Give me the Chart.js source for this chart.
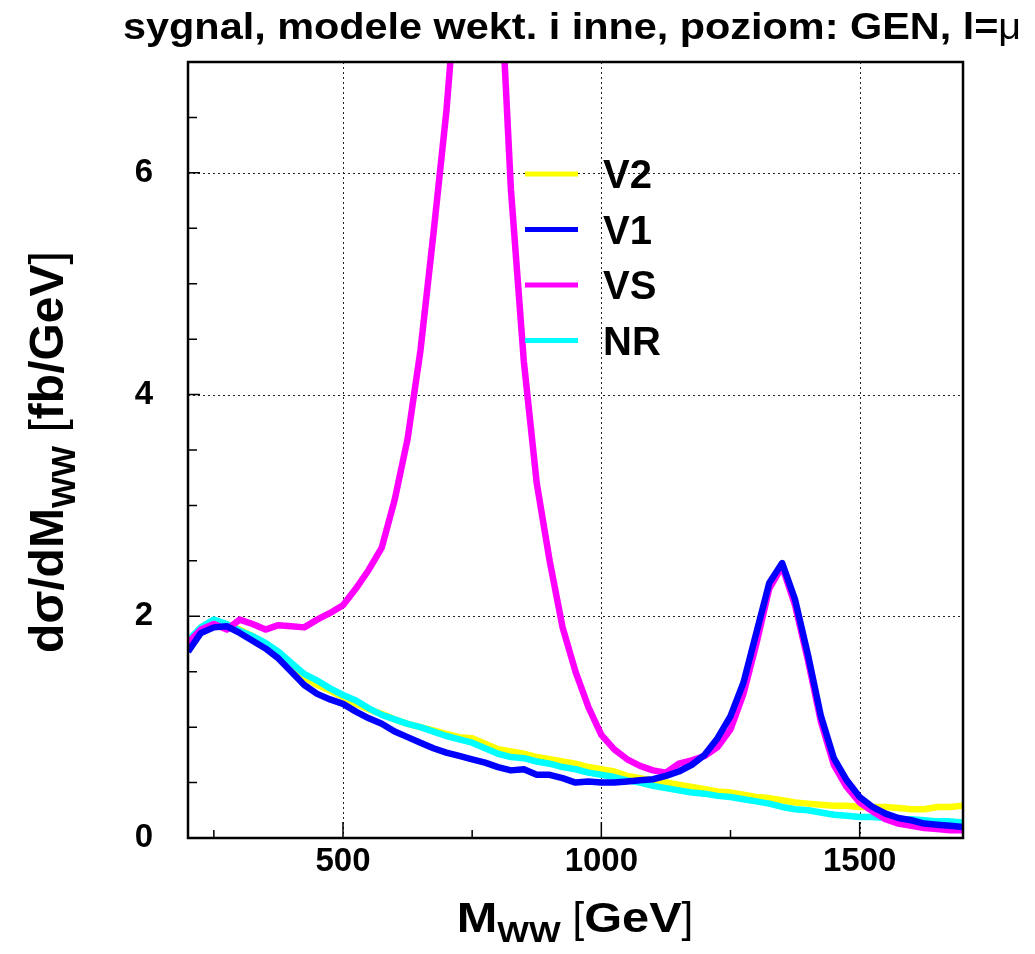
<!DOCTYPE html>
<html lang="pl">
<head>
<meta charset="UTF-8">
<title>sygnal, modele wekt. i inne, poziom: GEN</title>
<script src="https://cdn.jsdelivr.net/npm/chart.js"></script>
<style>
  body { margin: 0; background: #fff; }
  #wrap { width: 1035px; height: 954px; }
</style>
</head>
<body>
<div id="wrap"><canvas id="chart" width="1035" height="954"></canvas></div>
<script>
// M_WW bin centres [GeV]
const massGeV = [200, 225, 250, 275, 300, 325, 350, 375, 400, 425, 450, 475, 500, 525, 550, 575,
  600, 625, 650, 675, 700, 725, 750, 775, 800, 825, 850, 875, 900, 925, 950, 975,
  1000, 1025, 1050, 1075, 1100, 1125, 1150, 1175, 1200, 1225, 1250, 1275, 1300, 1325, 1350, 1375,
  1400, 1425, 1450, 1475, 1500, 1525, 1550, 1575, 1600, 1625, 1650, 1675, 1700];

// dsigma/dM_WW [fb/GeV]
const v2 = [1.76, 1.90, 1.96, 1.93, 1.88, 1.82, 1.75, 1.67, 1.56, 1.45, 1.38, 1.33, 1.27, 1.21, 1.16, 1.12,
  1.07, 1.03, 1.00, 0.97, 0.94, 0.91, 0.90, 0.85, 0.80, 0.78, 0.76, 0.73, 0.71, 0.69, 0.67, 0.64,
  0.62, 0.60, 0.56, 0.54, 0.52, 0.50, 0.48, 0.46, 0.44, 0.42, 0.41, 0.39, 0.37, 0.36, 0.34, 0.32,
  0.31, 0.30, 0.29, 0.29, 0.28, 0.28, 0.28, 0.27, 0.26, 0.26, 0.28, 0.28, 0.29];
const v1 = [1.68, 1.85, 1.90, 1.91, 1.85, 1.78, 1.71, 1.62, 1.50, 1.38, 1.30, 1.25, 1.21, 1.14, 1.08, 1.03,
  0.96, 0.91, 0.86, 0.81, 0.77, 0.74, 0.71, 0.68, 0.64, 0.61, 0.62, 0.57, 0.57, 0.54, 0.50, 0.51,
  0.50, 0.50, 0.51, 0.52, 0.53, 0.56, 0.60, 0.66, 0.75, 0.90, 1.10, 1.40, 1.85, 2.30, 2.48, 2.15,
  1.65, 1.10, 0.72, 0.52, 0.37, 0.28, 0.22, 0.18, 0.16, 0.13, 0.12, 0.11, 0.10];
const vs = [1.76, 1.88, 1.93, 1.88, 1.97, 1.93, 1.88, 1.92, 1.91, 1.90, 1.97, 2.03, 2.10, 2.25, 2.42, 2.62,
  3.05, 3.60, 4.40, 5.45, 6.55, 8.00, 10.5, 10.5, 8.20, 5.85, 4.30, 3.20, 2.50, 1.90, 1.50, 1.18,
  0.93, 0.80, 0.71, 0.65, 0.61, 0.59, 0.67, 0.70, 0.74, 0.82, 0.98, 1.30, 1.75, 2.25, 2.45, 2.10,
  1.60, 1.05, 0.66, 0.46, 0.32, 0.24, 0.17, 0.13, 0.11, 0.09, 0.08, 0.07, 0.07];
const nr = [1.78, 1.90, 1.97, 1.93, 1.87, 1.82, 1.76, 1.68, 1.58, 1.48, 1.42, 1.35, 1.29, 1.24, 1.17, 1.11,
  1.07, 1.03, 1.00, 0.96, 0.92, 0.89, 0.86, 0.81, 0.76, 0.73, 0.72, 0.69, 0.67, 0.64, 0.62, 0.59,
  0.57, 0.55, 0.52, 0.50, 0.47, 0.45, 0.43, 0.41, 0.40, 0.38, 0.37, 0.35, 0.33, 0.31, 0.28, 0.26,
  0.25, 0.23, 0.21, 0.20, 0.19, 0.19, 0.18, 0.17, 0.17, 0.16, 0.15, 0.15, 0.14];

const seriesNames = ["V2", "V1", "VS", "NR"];
const seriesColors = ["#ffff00", "#0000ff", "#ff00ff", "#00ffff"];

const xTicks = [500, 1000, 1500];
const xMinorTicks = [250, 750, 1250];
const yTicks = [0, 2, 4, 6];
const yMinorTicks = [0.5, 1, 1.5, 2.5, 3, 3.5, 4.5, 5, 5.5, 6.5];

const FONT = '"Liberation Sans", Arial, Helvetica, sans-serif';

function toPoints(values) {
  return massGeV.map((m, i) => ({ x: m, y: values[i] }));
}

// draw a run of text pieces (sub-scripts, mixed weights) starting at x, baseline y
function richText(ctx, parts, x, y, align) {
  let total = 0;
  parts.forEach(p => {
    ctx.font = (p.weight || "bold") + " " + p.size + "px " + FONT;
    p.w = ctx.measureText(p.t).width * (p.sx || 1);
    total += p.w;
  });
  let cx = align === "center" ? x - total / 2 : x;
  parts.forEach(p => {
    ctx.save();
    ctx.font = (p.weight || "bold") + " " + p.size + "px " + FONT;
    ctx.translate(cx, y + (p.dy || 0));
    ctx.scale(p.sx || 1, 1);
    ctx.fillText(p.t, 0, 0);
    ctx.restore();
    cx += p.w;
  });
}

const rootStyle = {
  id: "rootStyle",
  beforeDatasetsDraw(chart) {
    const { ctx, chartArea: a, scales: { x, y } } = chart;
    ctx.save();
    ctx.strokeStyle = "#222";
    ctx.lineWidth = 1;
    ctx.setLineDash([2, 3]);
    ctx.beginPath();
    xTicks.forEach(v => {
      const px = Math.round(x.getPixelForValue(v)) + 0.5;
      ctx.moveTo(px, a.top); ctx.lineTo(px, a.bottom);
    });
    yTicks.forEach(v => {
      if (v === 0) return;
      const py = Math.round(y.getPixelForValue(v)) + 0.5;
      ctx.moveTo(a.left, py); ctx.lineTo(a.right, py);
    });
    ctx.stroke();
    ctx.restore();
  },
  afterDatasetsDraw(chart) {
    const { ctx, chartArea: a, scales: { x, y } } = chart;
    ctx.save();
    // ticks, pointing inwards
    ctx.strokeStyle = "#000";
    ctx.lineWidth = 1.5;
    ctx.beginPath();
    xTicks.forEach(v => { const px = x.getPixelForValue(v); ctx.moveTo(px, a.bottom); ctx.lineTo(px, a.bottom - 16); });
    xMinorTicks.forEach(v => { const px = x.getPixelForValue(v); ctx.moveTo(px, a.bottom); ctx.lineTo(px, a.bottom - 8); });
    yTicks.forEach(v => { const py = y.getPixelForValue(v); ctx.moveTo(a.left, py); ctx.lineTo(a.left + 12, py); });
    yMinorTicks.forEach(v => { const py = y.getPixelForValue(v); ctx.moveTo(a.left, py); ctx.lineTo(a.left + 9, py); });
    ctx.stroke();
    // frame
    ctx.lineWidth = 2.5;
    ctx.strokeRect(a.left, a.top, a.right - a.left, a.bottom - a.top);

    // legend inside the frame
    chart.data.datasets.forEach((ds, i) => {
      const ly = 174 + i * 55.5;
      ctx.strokeStyle = ds.borderColor;
      ctx.lineWidth = 5;
      ctx.beginPath(); ctx.moveTo(525, ly); ctx.lineTo(578, ly); ctx.stroke();
      ctx.fillStyle = "#000";
      ctx.font = "bold 40px " + FONT;
      ctx.textBaseline = "alphabetic";
      ctx.fillText(ds.label, 603, ly + 14);
    });

    // main title
    ctx.fillStyle = "#000";
    richText(ctx, [
      { t: "sygnal, modele wekt. i inne, poziom: GEN, l=", size: 36, sx: 1.15 },
      { t: "\u03bc", size: 36, weight: "normal", sx: 1.1 }
    ], 123, 39, "left");

    // x axis title
    richText(ctx, [
      { t: "M", size: 42, sx: 1.16 },
      { t: "WW", size: 29, dy: 10, sx: 1.16 },
      { t: " [", size: 42, weight: "normal" },
      { t: "GeV", size: 42, sx: 1.16 },
      { t: "]", size: 42, weight: "normal" }
    ], 575, 932, "center");

    // y axis title, rotated
    ctx.save();
    ctx.translate(63, 452);
    ctx.rotate(-Math.PI / 2);
    richText(ctx, [
      { t: "d\u03c3/dM", size: 48 },
      { t: "WW", size: 33, dy: 12 },
      { t: " [", size: 48, weight: "normal" },
      { t: "fb/GeV", size: 48 },
      { t: "]", size: 48, weight: "normal" }
    ], 0, 0, "center");
    ctx.restore();
    ctx.restore();
  }
};

const datasets = [v2, v1, vs, nr].map((vals, i) => ({
  label: seriesNames[i],
  data: toPoints(vals),
  borderColor: seriesColors[i],
  backgroundColor: seriesColors[i],
  borderWidth: 6.5,
  pointRadius: 0,
  tension: 0,
  borderJoinStyle: "round",
  clip: 0,
  order: [3, 0, 1, 2][i]
}));

new Chart(document.getElementById("chart"), {
  type: "line",
  data: { datasets: datasets },
  options: {
    responsive: false,
    animation: false,
    events: [],
    layout: { padding: { top: 62, right: 72, left: 0, bottom: 0 } },
    plugins: { legend: { display: false }, title: { display: false }, tooltip: { enabled: false } },
    scales: {
      x: {
        type: "linear",
        min: 200,
        max: 1700,
        grid: { display: false, drawTicks: false },
        border: { display: false },
        afterBuildTicks: s => { s.ticks = xTicks.map(v => ({ value: v })); },
        afterFit: s => { s.height = 116; },
        ticks: {
          color: "#000",
          padding: 7,
          maxRotation: 0,
          callback: v => String(v),
          font: { family: FONT, size: 33, weight: "bold", lineHeight: 1 }
        }
      },
      y: {
        min: 0,
        max: 7,
        grid: { display: false, drawTicks: false },
        border: { display: false },
        afterBuildTicks: s => { s.ticks = yTicks.map(v => ({ value: v })); },
        afterFit: s => { s.width = 188; },
        ticks: {
          color: "#000",
          padding: 35,
          callback: v => String(v),
          font: { family: FONT, size: 33, weight: "bold", lineHeight: 1 }
        }
      }
    }
  },
  plugins: [rootStyle]
});
</script>
</body>
</html>
